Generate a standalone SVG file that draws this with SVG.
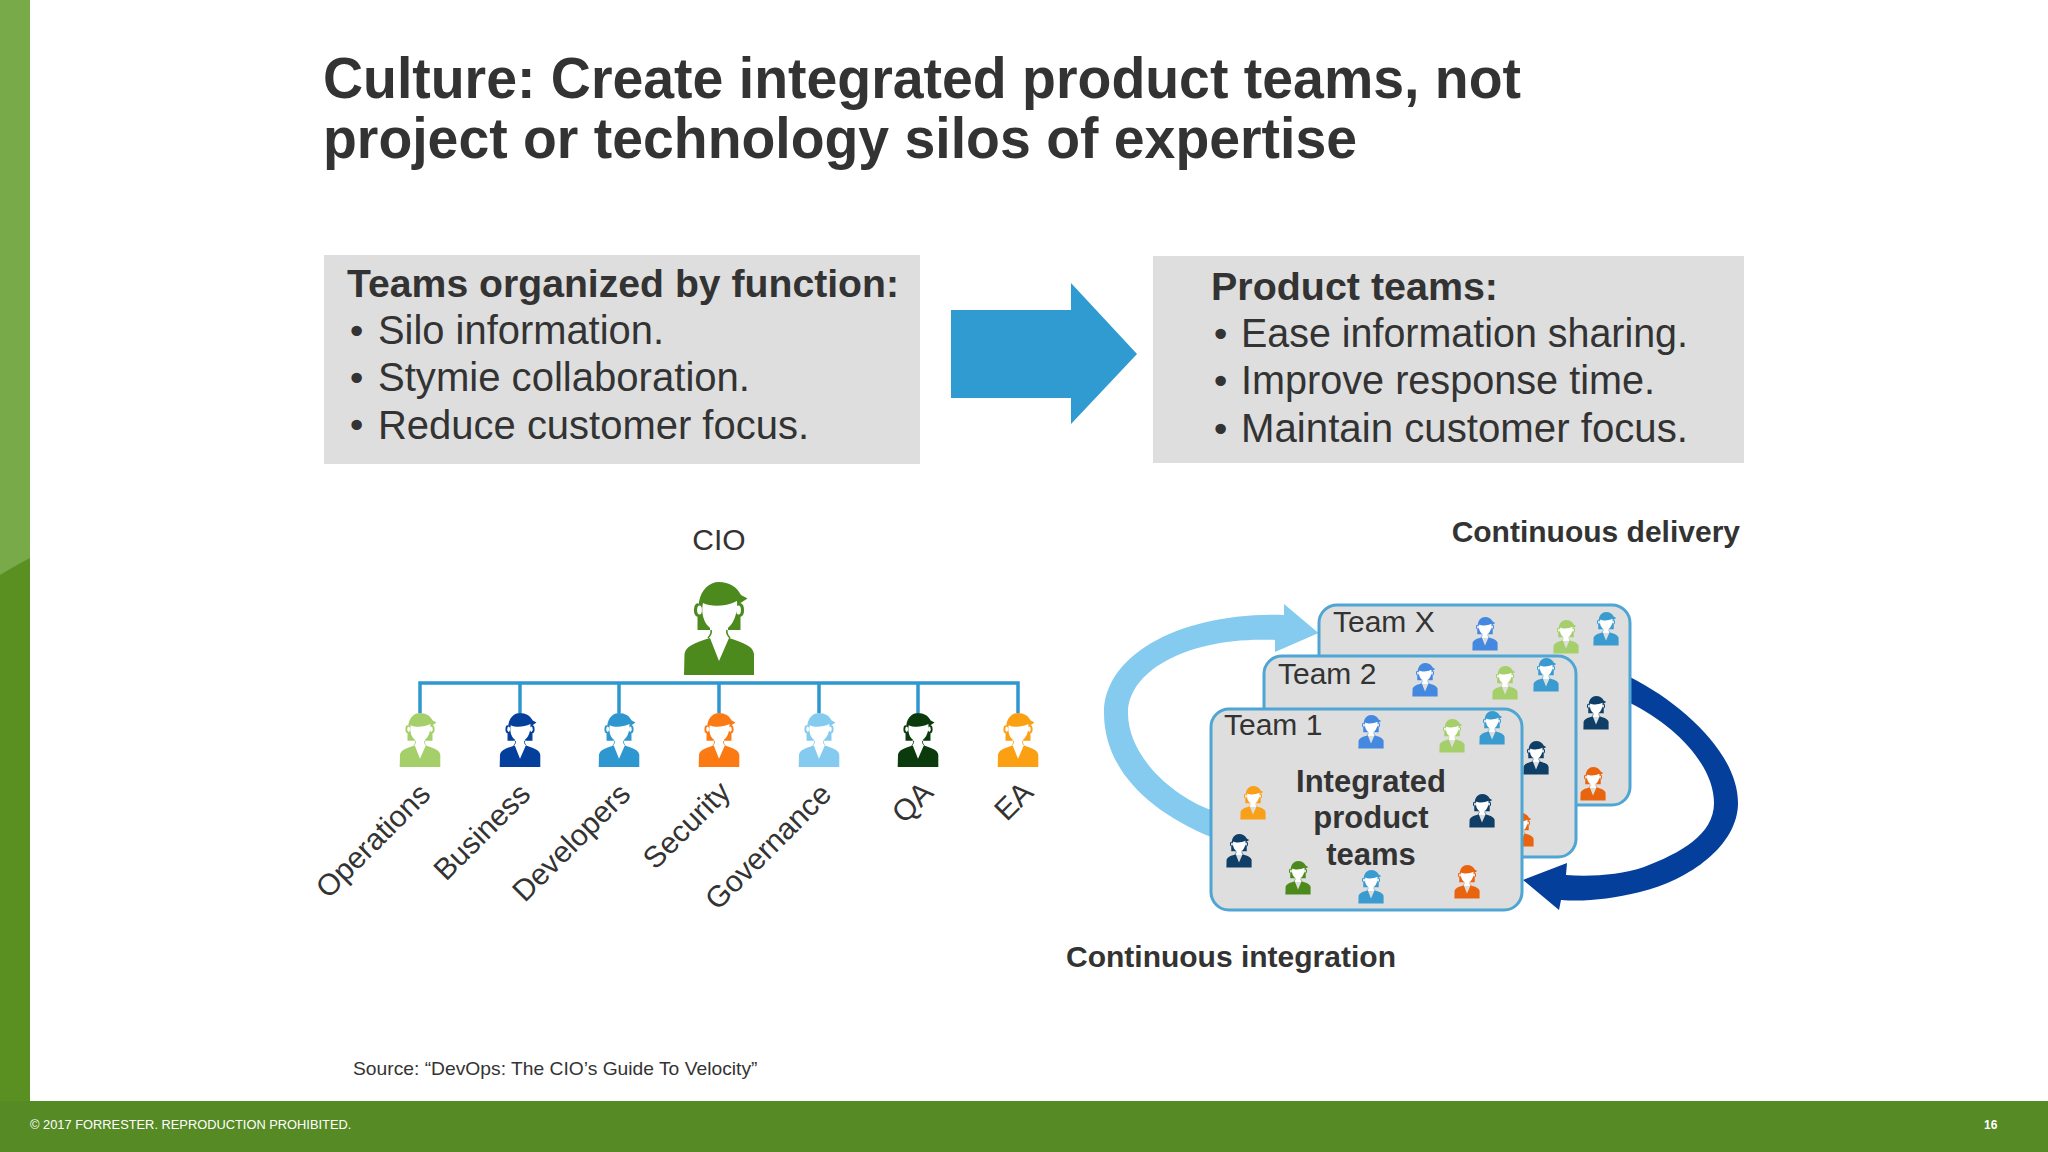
<svg xmlns="http://www.w3.org/2000/svg" xmlns:xlink="http://www.w3.org/1999/xlink" width="2048" height="1152" viewBox="0 0 2048 1152">
<style>
text{font-family:"Liberation Sans",Arial,sans-serif;fill:#333}
.b{font-weight:700}
.h{font-size:39px;font-weight:700}
.l{font-size:40px}
text.d{font-family:"DejaVu Sans",sans-serif;font-size:36px}
.t{font-size:57px;font-weight:700}
.r{font-size:30px;text-anchor:end}
.m{font-size:30px}
.c{font-size:31px;font-weight:700}
.e{font-size:30px;font-weight:700}
.box{fill:#dedede}
.team{fill:#dedede;stroke:#4fa5d3;stroke-width:3}
.link{fill:none;stroke:#2f97cf;stroke-width:3.5}
</style>
<defs>
<g id="p">
<path fill="currentColor" d="M-21.5,48V35L-20,20C-18,8-10,0,0,0C10,0,18,5,22,13L28.5,16.5L21.5,21V48Z"/>
<ellipse cx="-21.5" cy="28" rx="3.6" ry="6.8" fill="currentColor"/>
<ellipse cx="21.5" cy="28" rx="3.6" ry="6.8" fill="currentColor"/>
<path fill="#fff" d="M-16,21C-8,25,6,25,18,19C19,35,12,49,0,49C-12,49-19,35-16,21Z"/>
<ellipse cx="-19.5" cy="28" rx="2.4" ry="4.6" fill="#fff"/>
<ellipse cx="19.5" cy="28" rx="2.4" ry="4.6" fill="#fff"/>
<path fill="#fff" d="M-9,46H9V58H-9Z"/>
<path fill="currentColor" d="M-35,93L-34.5,72C-33,64-25,61-9,56L0,79L10,56C25,61,34,64,35,72L35,93Z"/>
<path fill="none" stroke="currentColor" stroke-width="1.6" d="M-8,48C-7,52-9,54-11,56M8,48C7,52,9,54,11,56"/>
</g>
</defs>
<rect width="2048" height="1152" fill="#fff"/>
<g id="side">
<rect x="0" y="0" width="30" height="1152" fill="#5a9022"/>
<path d="M0,0H30V558C20,563,10,569,0,575Z" fill="#79aa4a"/>
<rect x="0" y="1101" width="2048" height="51" fill="#568a24"/>
<text x="30" y="1129" font-size="12.85" style="fill:#fff">© 2017 FORRESTER. REPRODUCTION PROHIBITED.</text>
<text x="1984" y="1129" font-size="12" class="b" style="fill:#fff">16</text>
</g>
<g id="title"><text class="t" x="323" y="98" textLength="1198" lengthAdjust="spacingAndGlyphs">Culture: Create integrated product teams, not</text><text class="t" x="323" y="158" textLength="1034" lengthAdjust="spacingAndGlyphs">project or technology silos of expertise</text></g>
<g id="box-left"><rect class="box" x="324" y="255" width="596" height="209"/>
<text class="h" x="347" y="297" textLength="552" lengthAdjust="spacingAndGlyphs">Teams organized by function:</text>
<text class="d" x="346" y="344">•</text><text class="l" x="378" y="344" textLength="286" lengthAdjust="spacingAndGlyphs">Silo information.</text>
<text class="d" x="346" y="391">•</text><text class="l" x="378" y="391" textLength="372" lengthAdjust="spacingAndGlyphs">Stymie collaboration.</text>
<text class="d" x="346" y="438">•</text><text class="l" x="378" y="439" textLength="431" lengthAdjust="spacingAndGlyphs">Reduce customer focus.</text></g>
<g id="box-right"><rect class="box" x="1153" y="256" width="591" height="207"/>
<text class="h" x="1211" y="300" textLength="287" lengthAdjust="spacingAndGlyphs">Product teams:</text>
<text class="d" x="1210" y="347">•</text><text class="l" x="1241" y="347" textLength="447" lengthAdjust="spacingAndGlyphs">Ease information sharing.</text>
<text class="d" x="1210" y="394">•</text><text class="l" x="1241" y="394" textLength="414" lengthAdjust="spacingAndGlyphs">Improve response time.</text>
<text class="d" x="1210" y="442">•</text><text class="l" x="1241" y="442" textLength="447" lengthAdjust="spacingAndGlyphs">Maintain customer focus.</text></g>
<g id="big-arrow"><path d="M951,310H1071V283L1137,354L1071,424V398H951Z" fill="#2f9bd1"/></g>
<g id="connectors">
<path class="link" d="M420,713V683H1018V713M520,683V713M619,683V713M719,683V713M819,683V713M918,683V713"/>
<path d="M1211,837C1150,812,1104,770,1104,713C1104,655,1180,612,1284,615L1284,604L1318.5,633L1275,652L1275,640C1190,636,1128,670,1128,713C1128,755,1170,795,1211,810Z" fill="#84cbef"/>
<path d="M1630,677C1685,705,1738,755,1738,803C1738,845,1690,880,1640,892C1610,899,1585,902,1561,900L1559,910L1523,880L1567,863L1566,875C1590,877,1620,875,1644,867C1680,853,1714,835,1714,803C1714,765,1675,725,1630,703Z" fill="#04409b"/>
</g>
<g id="cio"><text class="m" x="719" y="550" text-anchor="middle">CIO</text><use href="#p" transform="translate(719,582)" color="#4d8a1e"/></g>
<g id="operations"><use href="#p" transform="translate(420,713) scale(.58)" color="#a5cf6a"/><text class="r" transform="translate(432,796) rotate(-45)">Operations</text></g>
<g id="business"><use href="#p" transform="translate(520,713) scale(.58)" color="#04409b"/><text class="r" transform="translate(532,796) rotate(-45)">Business</text></g>
<g id="developers"><use href="#p" transform="translate(619,713) scale(.58)" color="#2f97cf"/><text class="r" transform="translate(632,796) rotate(-45)">Developers</text></g>
<g id="security"><use href="#p" transform="translate(719,713) scale(.58)" color="#fb7a14"/><text class="r" transform="translate(732,794) rotate(-45)">Security</text></g>
<g id="governance"><use href="#p" transform="translate(819,713) scale(.58)" color="#84cbef"/><text class="r" transform="translate(833,796) rotate(-45)">Governance</text></g>
<g id="qa"><use href="#p" transform="translate(918,713) scale(.58)" color="#0b3a0c"/><text class="r" transform="translate(935,794) rotate(-45)">QA</text></g>
<g id="ea"><use href="#p" transform="translate(1018,713) scale(.58)" color="#fba012"/><text class="r" transform="translate(1035,794) rotate(-45)">EA</text></g>
<text class="e" x="1740" y="542" text-anchor="end">Continuous delivery</text>
<g id="team-x"><rect class="team" x="1319" y="605" width="311" height="200" rx="18"/>
<text class="m" x="1333" y="632">Team X</text>
<use href="#p" transform="translate(1485,617) scale(.36)" color="#4488e0"/>
<use href="#p" transform="translate(1566,620) scale(.36)" color="#a5cf6a"/>
<use href="#p" transform="translate(1606,612) scale(.36)" color="#3a9bd0"/>
<use href="#p" transform="translate(1596,696) scale(.36)" color="#0f3f66"/>
<use href="#p" transform="translate(1593,767) scale(.36)" color="#e8640f"/></g>
<g id="team-2"><rect class="team" x="1264" y="656" width="312" height="201" rx="18"/>
<text class="m" x="1278" y="684">Team 2</text>
<use href="#p" transform="translate(1425,663) scale(.36)" color="#4488e0"/>
<use href="#p" transform="translate(1505,666) scale(.36)" color="#a5cf6a"/>
<use href="#p" transform="translate(1546,658) scale(.36)" color="#3a9bd0"/>
<use href="#p" transform="translate(1536,741) scale(.36)" color="#0f3f66"/>
<use href="#p" transform="translate(1521,813) scale(.36)" color="#e8640f"/></g>
<g id="team-1"><rect class="team" x="1211" y="709" width="311" height="201" rx="18"/>
<text class="m" x="1224" y="735">Team 1</text>
<use href="#p" transform="translate(1371,715) scale(.36)" color="#4488e0"/>
<use href="#p" transform="translate(1452,719) scale(.36)" color="#a5cf6a"/>
<use href="#p" transform="translate(1492,711) scale(.36)" color="#3a9bd0"/>
<use href="#p" transform="translate(1253,786) scale(.36)" color="#f9a01b"/>
<use href="#p" transform="translate(1482,794) scale(.36)" color="#0f3f66"/>
<use href="#p" transform="translate(1239,834) scale(.36)" color="#0f3f66"/>
<use href="#p" transform="translate(1298,861) scale(.36)" color="#4d8a1e"/>
<use href="#p" transform="translate(1371,870) scale(.36)" color="#3a9bd0"/>
<use href="#p" transform="translate(1467,865) scale(.36)" color="#e8640f"/>
<text class="c" x="1371" y="792" text-anchor="middle">Integrated</text>
<text class="c" x="1371" y="828" text-anchor="middle">product</text>
<text class="c" x="1371" y="865" text-anchor="middle">teams</text></g>
<text class="e" x="1066" y="967">Continuous integration</text>
<text x="353" y="1075" font-size="19.25">Source: “DevOps: The CIO’s Guide To Velocity”</text>
</svg>
